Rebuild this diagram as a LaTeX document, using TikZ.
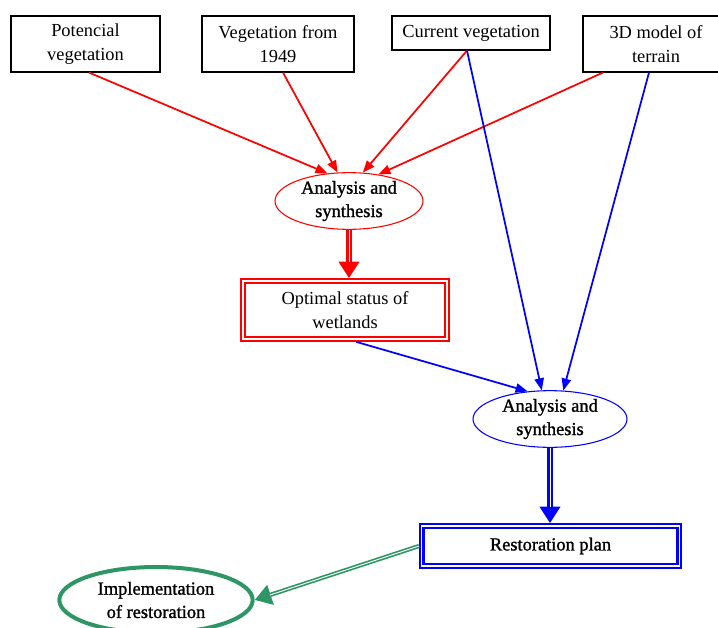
\documentclass[tikz,border=0pt]{standalone}
\usepackage{fontspec}
\setmainfont{Liberation Serif}
\newfontfamily\heavyserif[FakeBold=1.3]{Liberation Serif}
\usetikzlibrary{shapes.geometric, arrows.meta}
\definecolor{FlowRed}{RGB}{255, 0, 0}
\definecolor{FlowBlue}{RGB}{0, 0, 255}
\definecolor{FlowGreen}{RGB}{46, 150, 100}

\begin{document}
\begin{tikzpicture}[x=0.75pt,y=-0.75pt,
  font=\fontsize{13.8}{17.5}\selectfont,
  srcbox/.style={draw, line width=0.8pt, align=center, inner sep=0pt},
  synth/.style={ellipse, draw, line width=0.8pt, align=center, inner sep=0pt, font=\fontsize{13.8}{17.5}\heavyserif},
  result/.style={draw, line width=4.2pt, postaction={draw=white, line width=0.8pt}, align=center, inner sep=0pt},
  thinarrow/.style={line width=1.3pt, -{Triangle[length=9pt, width=7pt]}},
  dblarrow/.style={line width=3.8pt, -{Triangle[length=12.5pt, width=15pt]}, postaction={draw=white, line width=0.7pt, -, shorten >=12pt}}]
  \path[use as bounding box] (0,0) rectangle (718,628);
  % input maps
  \node[srcbox, minimum width=111.75pt, minimum height=42pt] (pot) at (85.5,44) {Potencial\\vegetation};
  \node[srcbox, minimum width=114pt, minimum height=42pt] (old) at (278,44) {Vegetation from\\1949};
  \node[srcbox, minimum width=118.5pt, minimum height=25.5pt] (cur) at (471,33) {Current vegetation};
  \node[srcbox, minimum width=109.5pt, minimum height=42pt] (dem) at (656,44) {3D model of\\terrain};
  % first stage
  \node[synth, draw=FlowRed, minimum width=111pt, minimum height=41.25pt] (anaA) at (349,201) {Analysis and\\synthesis};
  \node[result, draw=FlowRed, minimum width=153pt, minimum height=43.5pt] (opt) at (345,310) {Optimal status of\\wetlands};
  % second stage
  \node[synth, draw=FlowBlue, minimum width=115.5pt, minimum height=42pt] (anaB) at (550,419) {Analysis and\\synthesis};
  \node[result, draw=FlowBlue, minimum width=193pt, minimum height=30pt, font=\fontsize{13.8}{17.5}\heavyserif] (plan) at (550.5,546) {Restoration plan};
  \node[ellipse, draw=FlowGreen, line width=3pt, align=center, inner sep=0pt, minimum width=145pt, minimum height=49.5pt, font=\fontsize{13.8}{17.5}\heavyserif] (impl) at (156,600) {Implementation\\of restoration};

  \draw[thinarrow, FlowRed] ([xshift=2.6pt]pot.south) -- (anaA.128);
  \draw[thinarrow, FlowRed] ([xshift=3.75pt]old.south) -- (anaA.112);
  \draw[thinarrow, FlowRed] ([xshift=-3pt]cur.south) -- (anaA.64);
  \draw[thinarrow, FlowRed] ([xshift=-39.75pt]dem.south) -- (anaA.42);
  \draw[thinarrow, FlowBlue] ([xshift=-3pt]cur.south) -- (anaB.106);
  \draw[thinarrow, FlowBlue] ([xshift=-5.25pt]dem.south) -- (anaB.65);
  \draw[thinarrow, FlowBlue] ([xshift=8.25pt]opt.south) -- (anaB.129);

  \draw[dblarrow, FlowRed] (anaA.south) -- (anaA.south |- opt.north);
  \draw[dblarrow, FlowBlue] (anaB.south) -- (anaB.south |- plan.north);
  \draw[dblarrow, FlowGreen, line width=3.2pt] (plan.west) -- (impl.east);
\end{tikzpicture}
\end{document}
